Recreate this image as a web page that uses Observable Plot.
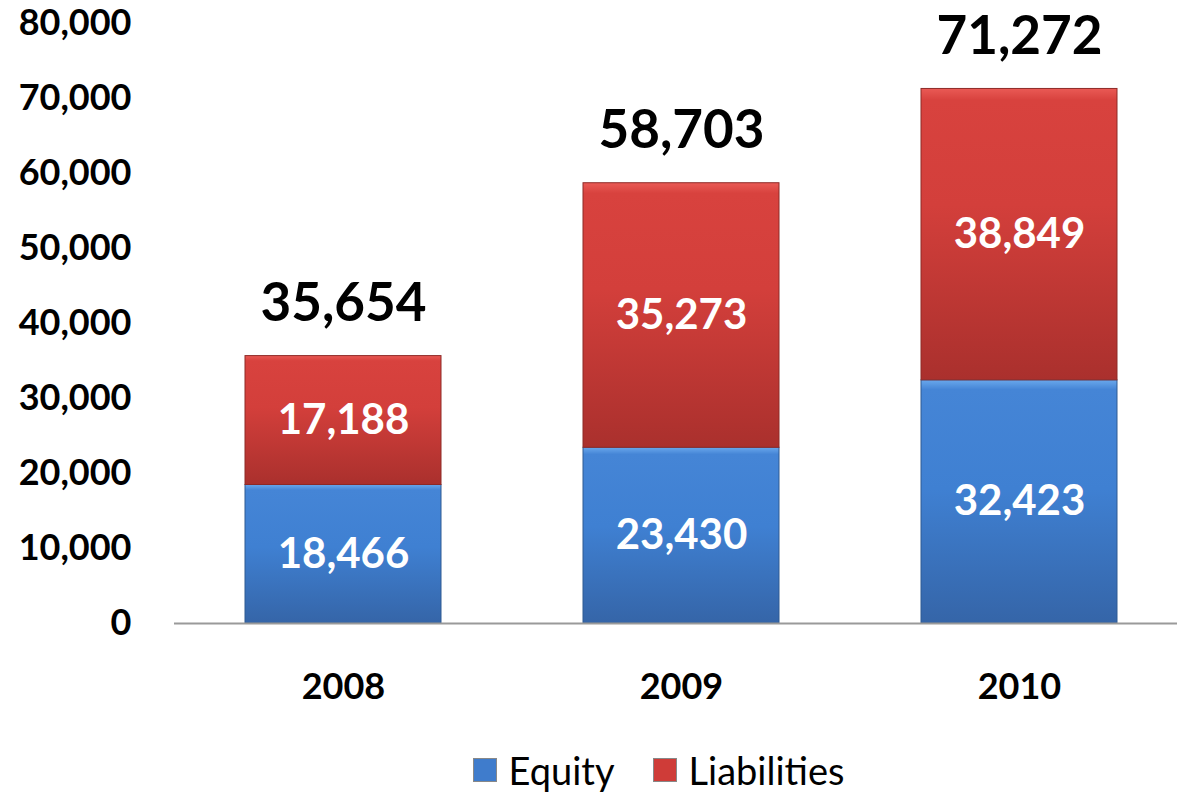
<!DOCTYPE html>
<html>
<head>
<meta charset="utf-8">
<script src="https://cdn.jsdelivr.net/npm/d3@7"></script>
<script src="https://cdn.jsdelivr.net/npm/@observablehq/plot@0.6"></script>
<style>
  html, body { margin: 0; padding: 0; background: #fff; }
  body { width: 1177px; height: 794px; overflow: hidden; font-family: Lato, "Open Sans", sans-serif; }
  #chart svg { overflow: visible; }
  #legend { display: flex; justify-content: center; gap: 38px; font-size: 38px; color: #000; margin-top: 12px; padding-left: 140px; }
  #legend .item { display: flex; align-items: center; gap: 12px; }
  #legend .sw { width: 22px; height: 22px; border: 1px solid #888; }
</style>
</head>
<body>
<div id="chart"></div>
<div id="legend"></div>
<script>
const years = ["2008", "2009", "2010"];
const equity = [18466, 23430, 32423];
const liabilities = [17188, 35273, 38849];
const totals = [35654, 58703, 71272];
const yTicks = [0, 10000, 20000, 30000, 40000, 50000, 60000, 70000, 80000];
const seriesNames = ["Equity", "Liabilities"];
const seriesColors = ["#3f7ccc", "#cf3c38"];

const rows = years.map((y, i) => ({
  year: y, equity: equity[i], liabilities: liabilities[i], total: totals[i]
}));
const fmt = d3.format(",");

const plot = Plot.plot({
  width: 1177,
  height: 735,
  marginTop: 23,
  marginBottom: 112,
  marginLeft: 174,
  marginRight: 0,
  style: { fontFamily: "Lato, 'Open Sans', sans-serif", background: "transparent", overflow: "visible" },
  x: { domain: years, range: [174, 1189], paddingInner: 0.42, paddingOuter: 0.21, label: null },
  y: { domain: [0, 80000], label: null },
  marks: [
    Plot.axisY({ ticks: yTicks, tickFormat: fmt, tickSize: 0, tickPadding: 43, fontSize: 36, fontWeight: "bold", fill: "#000", label: null }),
    Plot.axisX({ tickSize: 0, tickPadding: 50, fontSize: 36, fontWeight: "bold", fill: "#000", label: null }),
    Plot.barY(rows, { x: "year", y1: 0, y2: "equity", fill: "url(#gBlue)", stroke: "#2e5a92", strokeWidth: 1 }),
    Plot.barY(rows, { x: "year", y1: "equity", y2: "total", fill: "url(#gRed)", stroke: "#8e2a27", strokeWidth: 1 }),
    Plot.ruleY([0], { stroke: "#9a9a9a", strokeWidth: 2 }),
    Plot.text(rows, { x: "year", y: d => d.equity / 2, text: d => fmt(d.equity), fill: "#fff", fontSize: 42, fontWeight: "bold" }),
    Plot.text(rows, { x: "year", y: d => d.equity + d.liabilities / 2, text: d => fmt(d.liabilities), fill: "#fff", fontSize: 42, fontWeight: "bold" }),
    Plot.text(rows, { x: "year", y: "total", dy: -52, text: d => fmt(d.total), fill: "#000", fontSize: 53, fontWeight: "bold" })
  ]
});

d3.select(plot).insert("defs", ":first-child").html(`
  <linearGradient id="gBlue" x1="0" y1="0" x2="0" y2="1">
    <stop offset="0" stop-color="#6aa8ec"/>
    <stop offset="0.04" stop-color="#4585d6"/>
    <stop offset="0.45" stop-color="#3f80d2"/>
    <stop offset="1" stop-color="#3565a8"/>
  </linearGradient>
  <linearGradient id="gRed" x1="0" y1="0" x2="0" y2="1">
    <stop offset="0" stop-color="#ea5a55"/>
    <stop offset="0.04" stop-color="#d8423e"/>
    <stop offset="0.4" stop-color="#d33f3b"/>
    <stop offset="1" stop-color="#aa302d"/>
  </linearGradient>
`);

document.getElementById("chart").appendChild(plot);

const legend = d3.select("#legend");
seriesNames.forEach((name, i) => {
  const item = legend.append("div").attr("class", "item");
  item.append("div").attr("class", "sw").style("background", seriesColors[i]);
  item.append("span").text(name);
});
</script>
</body>
</html>
